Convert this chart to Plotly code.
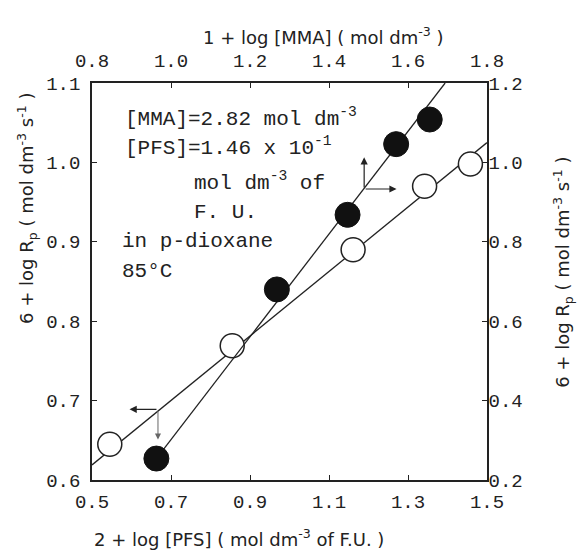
import plotly.graph_objects as go

# Open circles: 6 + log Rp (left axis) vs 2 + log[PFS] (bottom axis)
pfs_x = [0.545, 0.855, 1.161, 1.342, 1.458]
pfs_rp = [0.645, 0.769, 0.890, 0.970, 0.998]
pfs_fit_x = [0.5, 1.5]
pfs_fit_y = [0.619, 1.025]

# Filled circles: 6 + log Rp (right axis) vs 1 + log[MMA] (top axis)
mma_x = [0.963, 1.268, 1.447, 1.570, 1.655]
mma_rp = [0.254, 0.680, 0.868, 1.046, 1.108]
mma_fit_x = [0.963, 1.694]
mma_fit_y = [0.254, 1.2]

bottom_ticks = [0.5, 0.7, 0.9, 1.1, 1.3, 1.5]
top_ticks = [0.8, 1.0, 1.2, 1.4, 1.6, 1.8]
left_ticks = [0.6, 0.7, 0.8, 0.9, 1.0, 1.1]
right_ticks = [0.2, 0.4, 0.6, 0.8, 1.0, 1.2]

INK = "#222222"
MONO = "Liberation Mono, DejaVu Sans Mono, monospace"
SANS = "DejaVu Sans, Liberation Sans, sans-serif"

fig = go.Figure()
fig.add_trace(go.Scatter(x=pfs_fit_x, y=pfs_fit_y, mode="lines",
                         line=dict(color=INK, width=1.3), xaxis="x", yaxis="y",
                         showlegend=False, hoverinfo="skip"))
fig.add_trace(go.Scatter(x=mma_fit_x, y=mma_fit_y, mode="lines",
                         line=dict(color=INK, width=1.3), xaxis="x2", yaxis="y2",
                         showlegend=False, hoverinfo="skip"))
fig.add_trace(go.Scatter(x=pfs_x, y=pfs_rp, mode="markers",
                         marker=dict(symbol="circle", size=24, color="white",
                                     line=dict(color=INK, width=1.5)),
                         xaxis="x", yaxis="y", showlegend=False))
fig.add_trace(go.Scatter(x=mma_x, y=mma_rp, mode="markers",
                         marker=dict(symbol="circle", size=25, color="#111111",
                                     line=dict(color="#111111", width=1)),
                         xaxis="x2", yaxis="y2", showlegend=False))

tickfont = dict(family=MONO, size=19, color=INK)
common = dict(showgrid=False, zeroline=False, showline=True, linecolor=INK,
              linewidth=1.5, ticks="inside", ticklen=5, tickcolor=INK,
              tickfont=tickfont)

fig.update_layout(
    width=584, height=554,
    margin=dict(l=92, r=97, t=83, b=74),
    paper_bgcolor="white", plot_bgcolor="white",
    xaxis=dict(range=[0.5, 1.5], tickvals=bottom_ticks, ticklabelstandoff=3,
               ticktext=[f"{v:.1f}" for v in bottom_ticks], **common),
    xaxis2=dict(range=[0.8, 1.8], tickvals=top_ticks, ticklabelstandoff=7,
                ticktext=[f"{v:.1f}" for v in top_ticks],
                overlaying="x", side="top", **common),
    yaxis=dict(range=[0.6, 1.1], tickvals=left_ticks, ticklabelstandoff=6,
               ticktext=[f"{v:.1f}" for v in left_ticks], **common),
    yaxis2=dict(range=[0.2, 1.2], tickvals=right_ticks, ticklabelstandoff=-4,
                ticktext=[f"{v:.1f}" for v in right_ticks],
                overlaying="y", side="right", **common),
)

ann = []
title_font = dict(family=SANS, size=18, color=INK)
# axis titles
ann.append(dict(text="1 + log [MMA] ( mol dm<sup>-3</sup> )", xref="paper", yref="paper",
                x=0.585, y=1.118, xanchor="center", yanchor="middle",
                showarrow=False, font=title_font))
ann.append(dict(text="2 + log [PFS] ( mol dm<sup>-3</sup> of F.U. )", xref="paper", yref="paper",
                x=0.0, y=-0.146, xanchor="left", yanchor="middle",
                showarrow=False, font=title_font))
ann.append(dict(text="6 + log R<sub>p</sub> ( mol dm<sup>-3</sup> s<sup>-1</sup> )", xref="paper", yref="paper",
                x=-0.165, y=0.685, xanchor="center", yanchor="middle", textangle=-90,
                showarrow=False, font=title_font))
ann.append(dict(text="6 + log R<sub>p</sub> ( mol dm<sup>-3</sup> s<sup>-1</sup> )", xref="paper", yref="paper",
                x=1.192, y=0.524, xanchor="center", yanchor="middle", textangle=-90,
                showarrow=False, font=title_font))

# conditions text block
txt_font = dict(family=MONO, size=21, color=INK)
lines = [
    ("[MMA]=2.82 mol dm<sup>-3</sup>", 0.078, 0.914),
    ("[PFS]=1.46 x 10<sup>-1</sup>", 0.078, 0.839),
    ("mol dm<sup>-3</sup> of", 0.253, 0.751),
    ("F. U.", 0.253, 0.675),
    ("in p-dioxane", 0.071, 0.600),
    ("85°C", 0.071, 0.524),
]
for t, x, y in lines:
    ann.append(dict(text=t, xref="paper", yref="paper", x=x, y=y, xanchor="left",
                    yanchor="middle", showarrow=False, font=txt_font))

# arrows: filled series -> top / right axes
ox2, oy2 = 1.489, 0.933
ann.append(dict(x=ox2, y=oy2 + 0.08, ax=ox2, ay=oy2, xref="x2", yref="y2",
                axref="x2", ayref="y2", showarrow=True, arrowhead=2,
                arrowsize=1.2, arrowwidth=1.2, arrowcolor=INK, text=""))
ann.append(dict(x=ox2 + 0.082, y=oy2, ax=ox2, ay=oy2, xref="x2", yref="y2",
                axref="x2", ayref="y2", showarrow=True, arrowhead=2,
                arrowsize=1.2, arrowwidth=1.2, arrowcolor=INK, text=""))
# arrows: open series -> left / bottom axes
ox, oy = 0.667, 0.689
ann.append(dict(x=ox - 0.072, y=oy, ax=ox, ay=oy, xref="x", yref="y",
                axref="x", ayref="y", showarrow=True, arrowhead=2,
                arrowsize=1.2, arrowwidth=1.2, arrowcolor=INK, text=""))
ann.append(dict(x=ox, y=oy - 0.038, ax=ox, ay=oy, xref="x", yref="y",
                axref="x", ayref="y", showarrow=True, arrowhead=2,
                arrowsize=1.2, arrowwidth=1.0, arrowcolor="#666666", text=""))

fig.update_layout(annotations=ann)
fig.write_html("out.html", config={"displayModeBar": False},
               post_script="document.body.style.margin='0';document.body.style.padding='0';")
